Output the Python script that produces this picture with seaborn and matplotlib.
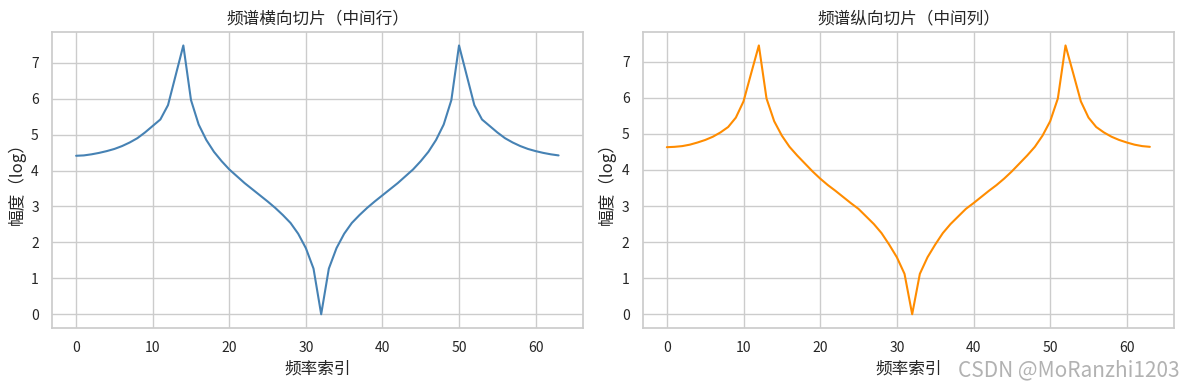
import numpy as np
import pandas as pd
import matplotlib
matplotlib.use("Agg")
import matplotlib.pyplot as plt
import seaborn as sns

# Values (log magnitude, 64 frequency bins)
freq_index = list(range(64))
row_slice = [4.41, 4.42, 4.45, 4.49, 4.54, 4.60, 4.68, 4.78, 4.90, 5.06,
             5.24, 5.42, 5.82, 6.65, 7.48, 5.96, 5.28, 4.85, 4.52, 4.26,
             4.03, 3.84, 3.65, 3.48, 3.31, 3.14, 2.96, 2.76, 2.54, 2.24,
             1.84, 1.27, 0.00, 1.27, 1.84, 2.24, 2.54, 2.76, 2.96, 3.14,
             3.31, 3.48, 3.65, 3.84, 4.03, 4.26, 4.52, 4.85, 5.28, 5.96,
             7.48, 6.65, 5.82, 5.42, 5.24, 5.06, 4.90, 4.78, 4.68, 4.60,
             4.54, 4.49, 4.45, 4.42]
col_slice = [4.63, 4.64, 4.66, 4.70, 4.76, 4.83, 4.92, 5.04, 5.19, 5.45,
             5.90, 6.68, 7.45, 5.98, 5.35, 4.95, 4.64, 4.40, 4.18, 3.96,
             3.76, 3.58, 3.42, 3.25, 3.08, 2.92, 2.71, 2.50, 2.25, 1.93,
             1.58, 1.12, 0.00, 1.12, 1.58, 1.93, 2.25, 2.50, 2.71, 2.92,
             3.08, 3.25, 3.42, 3.58, 3.76, 3.96, 4.18, 4.40, 4.64, 4.95,
             5.35, 5.98, 7.45, 6.68, 5.90, 5.45, 5.19, 5.04, 4.92, 4.83,
             4.76, 4.70, 4.66, 4.64]

sns.set_theme(style="whitegrid")
plt.rcParams['font.family'] = ['Noto Sans CJK SC', 'DejaVu Sans']
plt.rcParams['axes.unicode_minus'] = False

fig, axes = plt.subplots(1, 2, figsize=(11.83, 3.84), dpi=100)

# Left: middle row
sns.lineplot(x=freq_index, y=row_slice, ax=axes[0], color='steelblue', linewidth=1.5)
axes[0].set_title("频谱横向切片（中间行）", fontsize=12)
axes[0].set_xlabel("频率索引", fontsize=12)
axes[0].set_ylabel("幅度（log）", fontsize=12)

# Right: middle column
sns.lineplot(x=freq_index, y=col_slice, ax=axes[1], color='darkorange', linewidth=1.5)
axes[1].set_title("频谱纵向切片（中间列）", fontsize=12)
axes[1].set_xlabel("频率索引", fontsize=12)
axes[1].set_ylabel("幅度（log）", fontsize=12)

for ax in axes:
    ax.tick_params(labelsize=10)
    ax.set_yticks(range(0, 8))

# match the reference's axes placement
axes[0].set_position([52 / 1183, 1 - 327.7 / 384, (582.7 - 52) / 1183, (327.7 - 32) / 384])
axes[1].set_position([642.7 / 1183, 1 - 327.7 / 384, (1174 - 642.7) / 1183, (327.7 - 32) / 384])

# watermark seen in the reference
fig.text(0.997, 0.008, "CSDN @MoRanzhi1203", ha='right', va='bottom',
         fontsize=15, color='#aaaaaa', alpha=0.9)

plt.savefig("out.png", dpi=100)
